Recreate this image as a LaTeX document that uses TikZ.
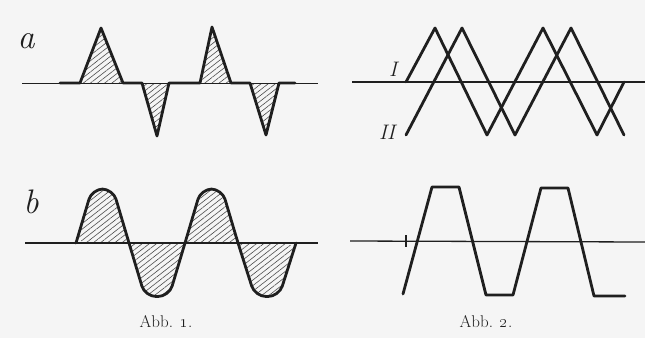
\documentclass[tikz,border=0pt]{standalone}
\usetikzlibrary{patterns.meta}
\begin{document}
\begin{tikzpicture}[x=1pt,y=-1pt,
  ink/.style={draw=black!88},
  axis/.style={ink, line width=1.3pt},
  wave/.style={ink, line width=2.8pt, line join=round, line cap=round},
  tickmark/.style={ink, line width=1.4pt},
  hatch/.style={pattern={Lines[angle=38,distance=4.4pt,line width=0.6pt]}, pattern color=black!70},
  lbl/.style={inner sep=0pt, text=black!88, font=\fontsize{34}{36}\selectfont\itshape},
  roman/.style={inner sep=0pt, text=black!88, font=\fontsize{21}{24}\selectfont\itshape},
  captext/.style={inner sep=0pt, text=black!88, font=\fontsize{17}{20}\selectfont}]
\fill[black!4] (0,0) rectangle (645,338);
\useasboundingbox (0,0) rectangle (645,338);

% ---------- Abb. 1 a ----------
\path[hatch] (80,83) -- (101,28) -- (123,83) -- cycle;
\path[hatch] (142,83) -- (157,136) -- (169,83) -- cycle;
\path[hatch] (200,83) -- (212,27) -- (231,83) -- cycle;
\path[hatch] (250,83) -- (266,135) -- (279,83) -- cycle;
\draw[axis] (22,83.5) -- (318,83.5);
\draw[wave] (60,83) -- (80,83) -- (101,28) -- (123,83) -- (142,83) -- (157,136)
  -- (169,83) -- (200,83) -- (212,27) -- (231,83) -- (250,83) -- (266,135)
  -- (279,83) -- (295,83);
\node[lbl] (la) at (26,41) {a};

% ---------- Abb. 1 b ----------
\path[hatch, rounded corners=11pt] (76,243) -- (92,189) -- (113,189) -- (129,243)
  -- (145,296.5) -- (169,296.5) -- (185,243) -- (201,189) -- (222,189) -- (238,243)
  -- (255,296.5) -- (279,296.5) -- (296,243) -- cycle;
\draw[axis] (25,243) -- (318,243);
\draw[wave, rounded corners=11pt] (76,243) -- (92,189) -- (113,189) -- (129,243)
  -- (145,296.5) -- (169,296.5) -- (185,243) -- (201,189) -- (222,189) -- (238,243)
  -- (255,296.5) -- (279,296.5) -- (296,243);
\node[lbl] (lb) at (31,202) {b};
\node[captext] (c1) at (166,322) {Abb. \oldstylenums{1}.};

% ---------- Abb. 2 top ----------
\draw[axis] (352,82) -- (645,82);
\draw[wave] (406,82) -- (435,28) -- (487,135) -- (543,28) -- (597,135) -- (624,82);
\draw[wave] (406,135) -- (462,28) -- (515,135) -- (571,28) -- (624,135);
\node[roman] (lI) at (393,69) {I};
\node[roman] (lII) at (387,132) {II};

% ---------- Abb. 2 bottom ----------
\draw[axis] (350,241) -- (645,242);
\draw[tickmark] (406,235) -- (406,247);
\draw[wave] (403,294) -- (432,187) -- (459,187) -- (486,295) -- (513,295)
  -- (541,188) -- (568,188) -- (594,296) -- (625,296);
\node[captext] (c2) at (486,322) {Abb. \oldstylenums{2}.};
\end{tikzpicture}
\end{document}
